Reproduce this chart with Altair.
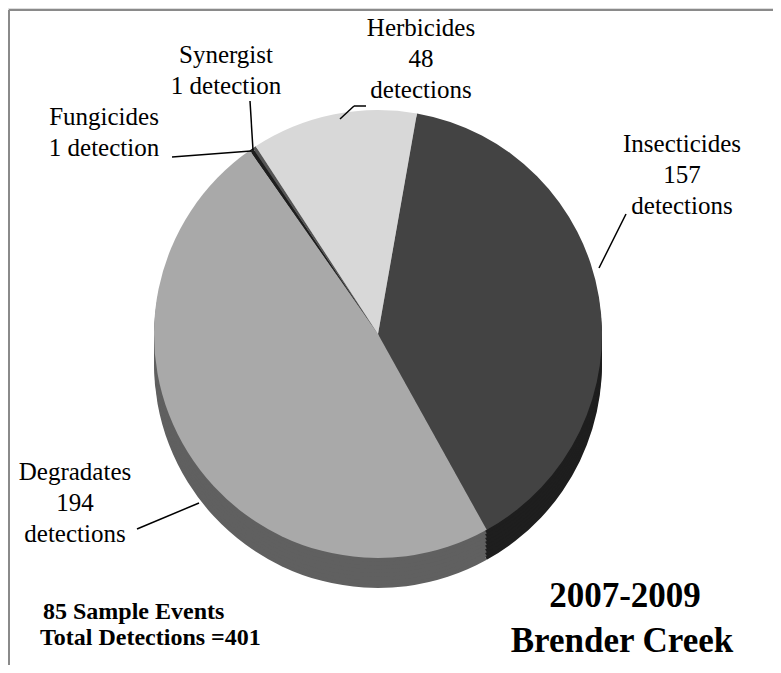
import math
import altair as alt
import pandas as pd

# ---- data ----
categories = ["Insecticides", "Degradates", "Fungicides", "Synergist", "Herbicides"]
detections = [157, 194, 1, 1, 48]
sample_events = 85
title_lines = ["2007-2009", "Brender Creek"]

# ---- styles ----
top_colors = ["#434343", "#a9a9a9", "#1e1e1e", "#555555", "#d8d8d8"]
side_colors = ["#1e1e1e", "#606060", "#111111", "#333333", "#9a9a9a"]
SERIF = "'Liberation Serif', 'Times New Roman', serif"

OFF = 8  # page margin
W, H = 765, 657


def px(v):
    return v - OFF


CX, CY, R, DEPTH = px(378), px(334), 224, 30
START = math.radians(10)

df = pd.DataFrame({
    "category": categories,
    "detections": detections,
    "order": list(range(len(categories))),
})


def label_text(name, n):
    if n == 1:
        return f"{name}\n{n} detection"
    return f"{name}\n{n}\ndetections"


df["label"] = [label_text(c, n) for c, n in zip(categories, detections)]

# label anchor (centre x, first baseline) in page pixels
label_pos = {
    "Herbicides": (421, 36),
    "Synergist": (226, 63),
    "Fungicides": (104, 125),
    "Insecticides": (682, 152),
    "Degradates": (75, 480),
}
df["lx"] = [px(label_pos[c][0]) for c in categories]
df["ly"] = [px(label_pos[c][1]) for c in categories]

theta = alt.Theta("detections:Q", stack=True,
                  scale=alt.Scale(range=[START, START + 2 * math.pi]))
order = alt.Order("order:Q")

base = alt.Chart(df)

side_layers = []
for k in range(8, 0, -1):
    off = DEPTH * k / 8
    side_layers.append(
        base.mark_arc(radius=R, stroke=None).encode(
            theta=theta,
            order=order,
            color=alt.Color("category:N", scale=alt.Scale(domain=categories, range=side_colors), legend=None),
            x=alt.value(CX),
            y=alt.value(CY + off),
        )
    )

top = base.mark_arc(radius=R).encode(
    theta=theta,
    order=order,
    color=alt.Color("category:N", scale=alt.Scale(domain=categories, range=top_colors), legend=None),
    x=alt.value(CX),
    y=alt.value(CY),
)

labels = base.mark_text(
    align="center", baseline="alphabetic", lineBreak="\n", lineHeight=31,
    font=SERIF, fontSize=25, color="black",
).encode(
    x=alt.X("lx:Q", scale=None, axis=None),
    y=alt.Y("ly:Q", scale=None, axis=None),
    text="label:N",
)

# leader lines (annotation segments, page pixels)
segments = [
    (366, 106, 354, 106), (354, 106, 340, 119),   # Herbicides
    (250, 101, 253, 150),                           # Synergist
    (172, 157, 251, 151),                           # Fungicides
    (626, 214, 599, 268),                           # Insecticides
    (137, 529, 199, 503),                           # Degradates
]
seg_df = pd.DataFrame(segments, columns=["x1", "y1", "x2", "y2"]).map(px)
leaders = alt.Chart(seg_df).mark_rule(color="black", strokeWidth=1.5).encode(
    x=alt.X("x1:Q", scale=None, axis=None),
    y=alt.Y("y1:Q", scale=None, axis=None),
    x2="x2:Q",
    y2="y2:Q",
)

# frame (left and top edges visible)
frame_df = pd.DataFrame({"x1": [1, 1], "y1": [2, 2], "x2": [1, W], "y2": [H, 2]})
frame = alt.Chart(frame_df).mark_rule(color="#8a8a8a", strokeWidth=2).encode(
    x=alt.X("x1:Q", scale=None, axis=None),
    y=alt.Y("y1:Q", scale=None, axis=None),
    x2="x2:Q",
    y2="y2:Q",
)

total = sum(detections)
foot_df = pd.DataFrame({
    "t": [f"{sample_events} Sample Events", f"Total Detections ={total}"],
    "x": [px(43), px(40)],
    "y": [px(619), px(645)],
})
footer = alt.Chart(foot_df).mark_text(
    align="left", baseline="alphabetic", font=SERIF,
    fontSize=24, fontWeight="bold", color="black",
).encode(
    x=alt.X("x:Q", scale=None, axis=None),
    y=alt.Y("y:Q", scale=None, axis=None),
    text="t:N",
)

title_df = pd.DataFrame({
    "t": title_lines,
    "x": [px(625), px(622)],
    "y": [px(607), px(652)],
})
title = alt.Chart(title_df).mark_text(
    align="center", baseline="alphabetic", font=SERIF,
    fontSize=35, fontWeight="bold", color="black",
).encode(
    x=alt.X("x:Q", scale=None, axis=None),
    y=alt.Y("y:Q", scale=None, axis=None),
    text="t:N",
)

chart = alt.layer(
    frame, *side_layers, top, leaders, labels, footer, title
).properties(
    width=W, height=H, padding=0,
    autosize=alt.AutoSizeParams(type="none"),
).resolve_scale(color="independent").configure_view(stroke=None).configure(background="white")

chart.save("out.html", embed_options={"renderer": "svg", "actions": False})
